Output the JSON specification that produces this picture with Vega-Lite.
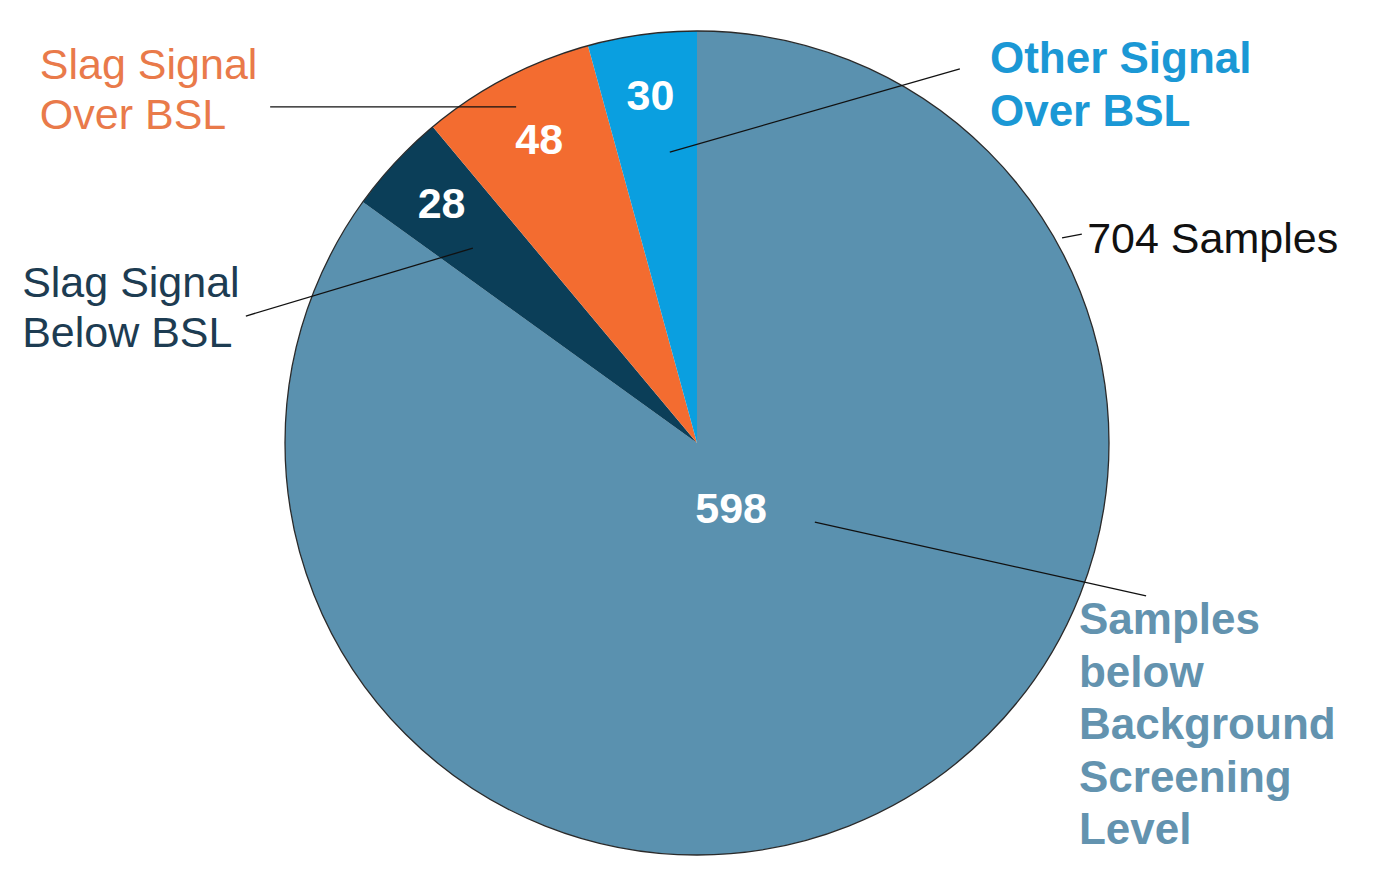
{
  "$schema": "https://vega.github.io/schema/vega-lite/v6.json",
  "width": 1383,
  "height": 881,
  "autosize": {"type": "none"},
  "padding": 0,
  "background": "white",
  "config": {"view": {"stroke": null}, "font": "Liberation Sans"},
  "resolve": {"scale": {"color": "independent"}},
  "datasets": {
    "slices": [
      {"category": "Samples below Background Screening Level", "value": 598},
      {"category": "Slag Signal Below BSL", "value": 28},
      {"category": "Slag Signal Over BSL", "value": 48},
      {"category": "Other Signal Over BSL", "value": 30}
    ],
    "callouts": [
      {"category": "Slag Signal Over BSL", "label": "Slag Signal\nOver BSL", "lx": -159.5, "ly": 88.3, "ax": -103.6, "ay": 81.6, "bx": -43.9, "by": 81.6},
      {"category": "Slag Signal Below BSL", "label": "Slag Signal\nBelow BSL", "lx": -163.8, "ly": 35.4, "ax": -109.5, "ay": 30.8, "bx": -54.4, "by": 47.3},
      {"category": "Other Signal Over BSL", "label": "Other Signal\nOver BSL", "lx": 71.1, "ly": 89.8, "ax": 63.8, "ay": 90.8, "bx": -6.6, "by": 70.6},
      {"category": "Samples below Background Screening Level", "label": "Samples\nbelow\nBackground\nScreening\nLevel", "lx": 92.7, "ly": -46.4, "ax": 109.0, "ay": -37.1, "bx": 28.6, "by": -19.2},
      {"category": "Total", "label": "704 Samples", "lx": 94.7, "ly": 46.1, "ax": 93.4, "ay": 50.7, "bx": 88.6, "by": 49.8}
    ]
  },
  "layer": [
    {
      "data": {"name": "slices"},
      "transform": [{"window": [{"op": "row_number", "as": "idx"}]}],
      "mark": {"type": "arc", "radius": 412, "stroke": null},
      "encoding": {
        "x": {"datum": 0, "type": "quantitative", "scale": {"domain": [-169.17, 166.5], "nice": false, "zero": false}, "axis": null},
        "y": {"datum": 0, "type": "quantitative", "scale": {"domain": [-106.31, 107.52], "nice": false, "zero": false}, "axis": null},
        "theta": {"field": "value", "type": "quantitative", "stack": true},
        "order": {"field": "idx", "type": "quantitative"},
        "color": {
          "field": "category", "type": "nominal", "legend": null,
          "scale": {
            "domain": ["Samples below Background Screening Level", "Slag Signal Below BSL", "Slag Signal Over BSL", "Other Signal Over BSL"],
            "range": ["#5A91AF", "#0B3E58", "#F36C30", "#0A9FE0"]
          }
        }
      }
    },
    {
      "data": {"name": "slices"},
      "transform": [{"aggregate": [{"op": "sum", "field": "value", "as": "total"}]}],
      "mark": {"type": "arc", "radius": 412, "fill": null, "filled": false, "stroke": "#2a2a2a", "strokeWidth": 1.3},
      "encoding": {
        "x": {"datum": 0, "type": "quantitative", "axis": null},
        "y": {"datum": 0, "type": "quantitative", "axis": null},
        "theta": {"field": "total", "type": "quantitative", "stack": true}
      }
    },
    {
      "data": {"name": "slices"},
      "transform": [{"window": [{"op": "row_number", "as": "idx"}]}],
      "mark": {"type": "text", "fill": "white", "fontSize": 43, "fontWeight": "bold", "font": "Liberation Sans", "align": "center", "baseline": "middle"},
      "encoding": {
        "x": {"datum": 0, "type": "quantitative", "axis": null},
        "y": {"datum": 0, "type": "quantitative", "axis": null},
        "theta": {"field": "value", "type": "quantitative", "stack": true},
        "order": {"field": "idx", "type": "quantitative"},
        "radius": {"field": "value", "type": "quantitative", "scale": {"type": "linear", "domain": [30, 598], "range": [349, 75], "clamp": true, "zero": false}},
        "text": {"field": "value", "type": "quantitative"}
      }
    },
    {
      "data": {"name": "callouts"},
      "mark": {"type": "rule", "color": "#111111", "strokeWidth": 1.3},
      "encoding": {
        "x": {"field": "ax", "type": "quantitative", "axis": null},
        "y": {"field": "ay", "type": "quantitative", "axis": null},
        "x2": {"field": "bx"},
        "y2": {"field": "by"}
      }
    },
    {
      "data": {"name": "callouts"},
      "transform": [{"filter": {"field": "category", "oneOf": ["Slag Signal Over BSL", "Slag Signal Below BSL", "Total"]}}],
      "mark": {"type": "text", "fontSize": 43, "font": "Liberation Sans", "align": "left", "baseline": "alphabetic", "lineBreak": "\n", "lineHeight": 50},
      "encoding": {
        "x": {"field": "lx", "type": "quantitative", "axis": null},
        "y": {"field": "ly", "type": "quantitative", "axis": null},
        "text": {"field": "label", "type": "nominal"},
        "color": {
          "field": "category", "type": "nominal", "legend": null,
          "scale": {"domain": ["Slag Signal Over BSL", "Slag Signal Below BSL", "Total"], "range": ["#E97A4A", "#1D3C52", "#111111"]}
        }
      }
    },
    {
      "data": {"name": "callouts"},
      "transform": [{"filter": {"field": "category", "oneOf": ["Other Signal Over BSL", "Samples below Background Screening Level"]}}],
      "mark": {"type": "text", "fontSize": 44, "fontWeight": "bold", "font": "Liberation Sans", "align": "left", "baseline": "alphabetic", "lineBreak": "\n", "lineHeight": 52.5},
      "encoding": {
        "x": {"field": "lx", "type": "quantitative", "axis": null},
        "y": {"field": "ly", "type": "quantitative", "axis": null},
        "text": {"field": "label", "type": "nominal"},
        "color": {
          "field": "category", "type": "nominal", "legend": null,
          "scale": {"domain": ["Other Signal Over BSL", "Samples below Background Screening Level"], "range": ["#1B98D5", "#6393AF"]}
        }
      }
    }
  ]
}
